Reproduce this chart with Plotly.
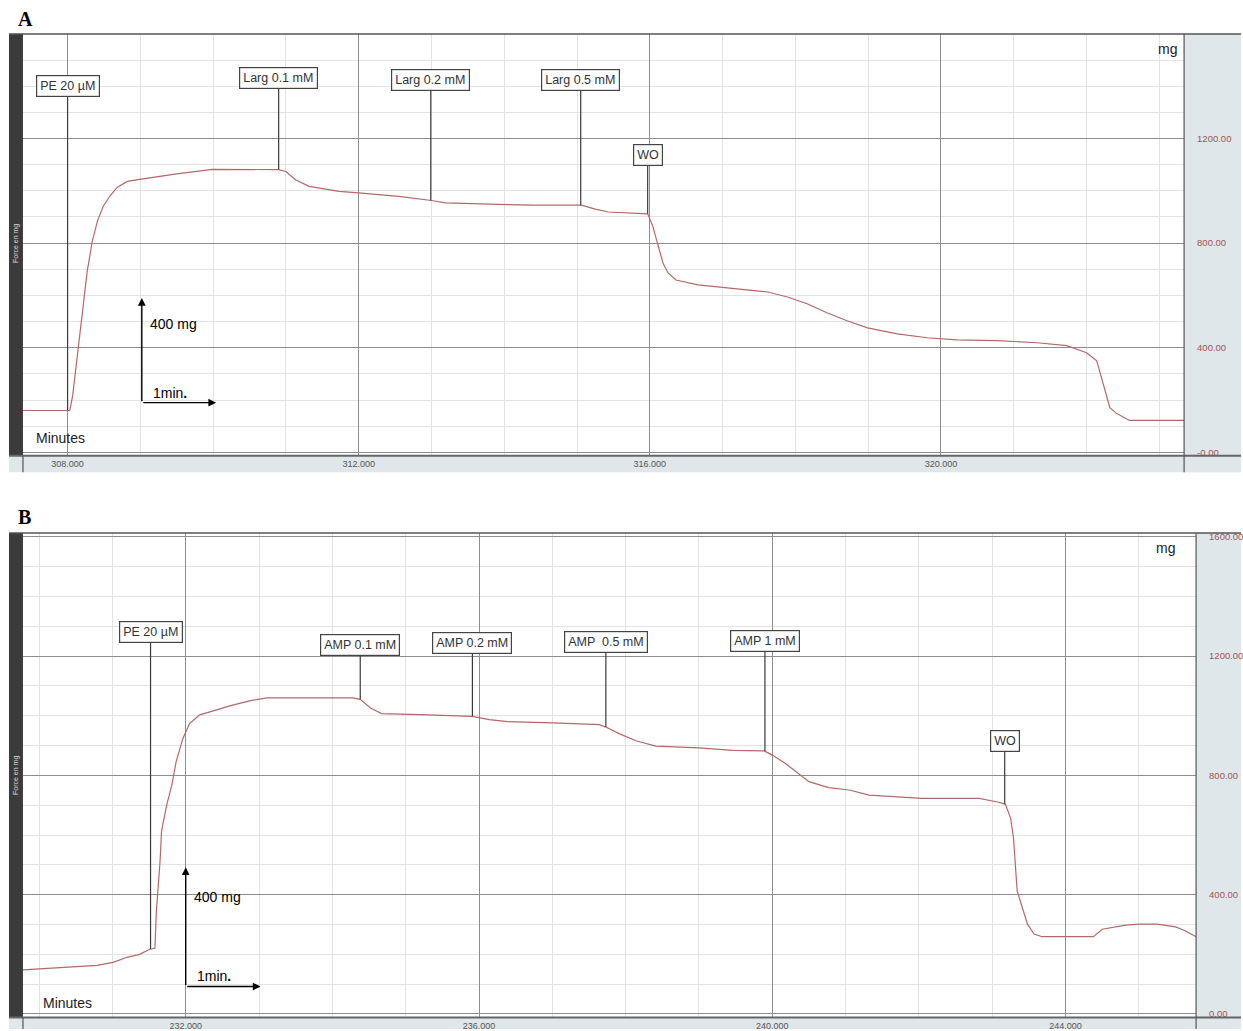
import numpy as np
import plotly.graph_objects as go

W, H = 1243, 1031

# ---------------- data: panel A (L-arginine) ----------------
a_time = [307.39, 308.03, 308.07, 308.11, 308.16, 308.22, 308.27, 308.34, 308.41, 308.49,
          308.58, 308.68, 308.82, 308.99, 309.5, 309.99, 310.5, 310.90, 311.0, 311.13,
          311.32, 311.73, 312.0, 312.55, 313.0, 313.19, 313.92, 314.38, 315.06, 315.25,
          315.43, 315.7, 315.97, 316.04, 316.11, 316.18, 316.25, 316.36, 316.66, 317.21,
          317.62, 317.89, 318.16, 318.44, 318.71, 318.99, 319.40, 319.81, 320.22, 320.77,
          321.32, 321.73, 322.00, 322.14, 322.23, 322.32, 322.41, 322.59, 323.34]
a_force = [160, 160, 217, 312, 446, 579, 693, 808, 884, 941,
           979, 1013, 1036, 1044, 1065, 1082, 1082, 1081, 1074, 1042,
           1017, 998, 992, 979, 963, 954, 948, 945, 945, 930,
           919, 915, 912, 865, 789, 724, 686, 659, 640, 625,
           613, 594, 568, 533, 503, 476, 453, 438, 430, 427,
           419, 408, 381, 350, 255, 171, 149, 122, 122]
a_marker_labels = ["PE 20 µM", "Larg 0.1 mM", "Larg 0.2 mM", "Larg 0.5 mM", "WO"]
a_marker_times = [308.0, 310.90, 312.99, 315.05, 315.97]
a_marker_box_y = [1402, 1433, 1424, 1424, 1138]
a_xticks = [308, 312, 316, 320]
a_yticks = [0, 400, 800, 1200]
a_yticktext = ["-0.00", "400.00", "800.00", "1200.00"]

# ---------------- data: panel B (AMP) ----------------
b_time = [229.78, 230.79, 231.01, 231.20, 231.37, 231.51, 231.58, 231.60, 231.65, 231.67,
          231.74, 231.81, 231.87, 231.96, 232.05, 232.19, 232.33, 232.60, 232.87, 233.10,
          234.28, 234.38, 234.52, 234.67, 235.19, 235.91, 236.14, 236.39, 237.01, 237.64,
          237.73, 237.91, 238.14, 238.41, 239.00, 239.46, 239.89, 240.00, 240.18, 240.36,
          240.50, 240.77, 241.05, 241.32, 241.73, 242.04, 242.82, 243.09, 243.18, 243.25,
          243.29, 243.32, 243.34, 243.41, 243.48, 243.57, 243.68, 244.38, 244.50, 244.82,
          245.00, 245.25, 245.50, 245.63, 245.78]
b_force = [148, 163, 173, 190, 200, 217, 220, 347, 513, 613,
           700, 767, 847, 923, 973, 1003, 1013, 1033, 1050, 1060,
           1060, 1055, 1026, 1007, 1004, 998, 987, 980, 976, 970,
           962, 940, 916, 898, 892, 884, 882, 868, 840, 807,
           779, 759, 751, 734, 729, 723, 723, 710, 703, 657,
           590, 501, 412, 357, 301, 268, 259, 259, 284, 298,
           301, 301, 292, 279, 259]
b_marker_labels = ["PE 20 µM", "AMP 0.1 mM", "AMP 0.2 mM", "AMP  0.5 mM", "AMP 1 mM", "WO"]
b_marker_times = [231.52, 234.38, 235.91, 237.73, 239.90, 243.17]
b_marker_box_y = [1280, 1237, 1243, 1247, 1250, 914]
b_xticks = [232, 236, 240, 244]
b_yticks = [0, 400, 800, 1200, 1600]
b_yticktext = ["0.00", "400.00", "800.00", "1200.00", "1600.00"]

# scale bars: origin (time, mg)
a_scale = (309.02, 190)
b_scale = (232.0, 92)

# ---------------- layout helpers ----------------
def px(x):
    return x / W

def py(y):
    return 1 - y / H

TRACE = "#b56868"
STRIP = "#dfe7ea"
DARK = "#3b3b3b"
MAJ = "#8e8e8e"
MIN = "#e3e3e3"
FONT = "Liberation Sans, Arial, sans-serif"
NARROW = "Liberation Sans Narrow, Arial Narrow, Liberation Sans, sans-serif"

fig = go.Figure()
fig.add_trace(go.Scatter(x=a_time, y=a_force, mode="lines", line=dict(color=TRACE, width=1.2),
                         xaxis="x", yaxis="y", showlegend=False, hoverinfo="skip"))
fig.add_trace(go.Scatter(x=b_time, y=b_force, mode="lines", line=dict(color=TRACE, width=1.2),
                         xaxis="x2", yaxis="y2", showlegend=False, hoverinfo="skip"))

panels = [
    dict(xa="x", ya="y", top=32, bot=455.5, right=1186, strip_bot=472,
         times=a_marker_times, labels=a_marker_labels, boxy=a_marker_box_y,
         t=a_time, f=a_force, scale=a_scale, letter="A", letter_y=17,
         minutes_xy=(34, 438), mg_xy=(1181, 47), force_y=242),
    dict(xa="x2", ya="y2", top=533, bot=1019.5, right=1198, strip_bot=1031,
         times=b_marker_times, labels=b_marker_labels, boxy=b_marker_box_y,
         t=b_time, f=b_force, scale=b_scale, letter="B", letter_y=517,
         minutes_xy=(41, 1005), mg_xy=(1179, 548), force_y=776),
]

shapes = []
annotations = []

for p in panels:
    # strips and bars
    shapes.append(dict(type="rect", xref="paper", yref="paper", x0=px(9), x1=px(23),
                       y0=py(p["bot"]), y1=py(p["top"]), fillcolor=DARK, line_width=0, layer="below"))
    shapes.append(dict(type="rect", xref="paper", yref="paper", x0=px(p["right"]), x1=1,
                       y0=py(p["strip_bot"]), y1=py(p["top"]), fillcolor=STRIP, line_width=0, layer="below"))
    shapes.append(dict(type="rect", xref="paper", yref="paper", x0=px(9), x1=1,
                       y0=py(p["strip_bot"]), y1=py(p["bot"]), fillcolor=STRIP, line_width=0, layer="below"))
    # borders
    shapes.append(dict(type="line", xref="paper", yref="paper", x0=px(9), x1=1,
                       y0=py(p["top"]), y1=py(p["top"]), line=dict(color="#555555", width=1.5)))
    shapes.append(dict(type="line", xref="paper", yref="paper", x0=px(9), x1=1,
                       y0=py(p["bot"]), y1=py(p["bot"]), line=dict(color="#666666", width=2)))
    shapes.append(dict(type="line", xref="paper", yref="paper", x0=px(p["right"]), x1=px(p["right"]),
                       y0=py(p["strip_bot"]), y1=py(p["top"]), line=dict(color="#555555", width=1.2)))
    shapes.append(dict(type="line", xref="paper", yref="paper", x0=px(23), x1=px(23),
                       y0=py(p["strip_bot"]), y1=py(p["bot"]), line=dict(color="#555555", width=1.2)))

    # event markers
    for lab, tm, by in zip(p["labels"], p["times"], p["boxy"]):
        fval = float(np.interp(tm, p["t"], p["f"]))
        shapes.append(dict(type="line", xref=p["xa"], yref=p["ya"], x0=tm, x1=tm, y0=fval, y1=by,
                           line=dict(color="#3a3a3a", width=1.2), layer="above"))
        annotations.append(dict(xref=p["xa"], yref=p["ya"], x=tm, y=by, text=lab, showarrow=False,
                                font=dict(family=FONT, size=12.5, color="#333333"),
                                bgcolor="white", bordercolor="#444444", borderwidth=1.2, borderpad=3,
                                xanchor="center", yanchor="middle"))

    # scale bars
    sx, sy = p["scale"]
    annotations.append(dict(xref=p["xa"], yref=p["ya"], x=sx, y=sy + 400, ax=sx, ay=sy,
                            axref=p["xa"], ayref=p["ya"], text="", showarrow=True,
                            arrowhead=2, arrowsize=1.1, arrowwidth=1.4, arrowcolor="black"))
    annotations.append(dict(xref=p["xa"], yref=p["ya"], x=sx + 1.02, y=sy, ax=sx, ay=sy,
                            axref=p["xa"], ayref=p["ya"], text="", showarrow=True,
                            arrowhead=2, arrowsize=1.1, arrowwidth=1.4, arrowcolor="black"))
    annotations.append(dict(xref=p["xa"], yref=p["ya"], x=sx + 0.08, y=sy + 300, text="400 mg",
                            showarrow=False, xanchor="left", yanchor="middle",
                            font=dict(family=FONT, size=14, color="black")))
    annotations.append(dict(xref=p["xa"], yref=p["ya"], x=sx + 0.13, y=sy + 36, text="1min<b>.</b>",
                            showarrow=False, xanchor="left", yanchor="middle",
                            font=dict(family=FONT, size=14, color="black")))

    # texts
    annotations.append(dict(xref="paper", yref="paper", x=px(p["minutes_xy"][0]), y=py(p["minutes_xy"][1]),
                            text="Minutes", showarrow=False, xanchor="left", yanchor="middle",
                            font=dict(family=FONT, size=14, color="#222222")))
    annotations.append(dict(xref="paper", yref="paper", x=px(p["mg_xy"][0]), y=py(p["mg_xy"][1]),
                            text="mg", showarrow=False, xanchor="right", yanchor="middle",
                            font=dict(family=FONT, size=14, color="#222222")))
    annotations.append(dict(xref="paper", yref="paper", x=px(16), y=py(p["force_y"]),
                            text="Force en mg", showarrow=False, textangle=-90,
                            xanchor="center", yanchor="middle",
                            font=dict(family=FONT, size=7, color="#dddddd")))
    annotations.append(dict(xref="paper", yref="paper", x=px(16), y=py(p["letter_y"]),
                            text="<b>" + p["letter"] + "</b>", showarrow=False,
                            xanchor="left", yanchor="middle",
                            font=dict(family="Liberation Serif, Times New Roman, serif", size=20, color="black")))

def xaxis(domain, rng, ticks, anchor):
    return dict(domain=domain, range=rng, anchor=anchor, tickmode="array", tickvals=ticks,
                tickformat=".3f", showgrid=True, gridcolor=MAJ, gridwidth=1, zeroline=False,
                showline=False, ticks="", ticklabelstandoff=1,
                tickfont=dict(family=NARROW, size=9, color="#555555"),
                minor=dict(tickmode="linear", tick0=0, dtick=1, showgrid=True, gridcolor=MIN, gridwidth=1))

def yaxis(domain, rng, ticks, text, anchor):
    return dict(domain=domain, range=rng, anchor=anchor, side="right", tickmode="array",
                tickvals=ticks, ticktext=text, showgrid=True, gridcolor=MAJ, gridwidth=1,
                zeroline=False, showline=False, ticks="", ticklabelstandoff=12,
                tickfont=dict(family=NARROW, size=9.5, color="#a05555"),
                minor=dict(tickmode="linear", tick0=0, dtick=100, showgrid=True, gridcolor=MIN, gridwidth=1))

fig.update_layout(
    width=W, height=H, margin=dict(l=0, r=0, t=0, b=0),
    paper_bgcolor="white", plot_bgcolor="white", showlegend=False,
    xaxis=xaxis([px(23), px(1186)], [307.387, 323.34], a_xticks, "y"),
    yaxis=yaxis([py(455.5), py(32)], [-13, 1600], a_yticks, a_yticktext, "x"),
    xaxis2=xaxis([px(23), px(1198)], [229.78, 245.78], b_xticks, "y2"),
    yaxis2=yaxis([py(1019.5), py(533)], [-12, 1613], b_yticks, b_yticktext, "x2"),
    shapes=shapes, annotations=annotations,
)

fig.write_html("out.html", config={"displayModeBar": False},
               post_script="document.body.style.margin='0px';document.body.style.overflow='hidden';")
